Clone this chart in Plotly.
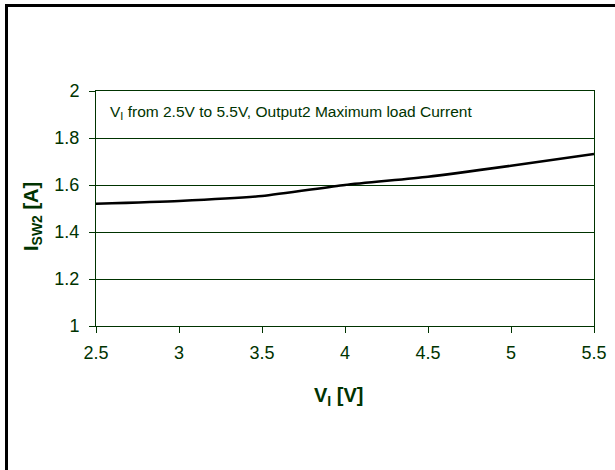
import plotly.graph_objects as go

vin = [2.5, 3.0, 3.5, 4.0, 4.5, 5.0, 5.5]
isw2 = [1.52, 1.532, 1.553, 1.60, 1.635, 1.682, 1.732]
x_ticks = [2.5, 3, 3.5, 4, 4.5, 5, 5.5]
y_ticks = [1, 1.2, 1.4, 1.6, 1.8, 2]

GREEN = "#003300"
FONT = "Arial, Liberation Sans, sans-serif"

W, H = 615, 470
L, R, T, B = 96, 21, 91, 144
pw, ph = W - L - R, H - T - B

def px(x):
    return (x - L) / pw

def py(y):
    return 1 - (y - T) / ph

fig = go.Figure()
fig.add_trace(go.Scatter(x=vin, y=isw2, mode="lines",
                         line=dict(color="black", width=2.5, shape="spline", smoothing=0.6),
                         showlegend=False, hoverinfo="skip"))

axis_common = dict(showline=True, linecolor=GREEN, linewidth=1, mirror=True,
                   ticks="outside", ticklen=6, tickcolor=GREEN, tickwidth=1,
                   tickfont=dict(family=FONT, size=18, color=GREEN), zeroline=False)

fig.update_xaxes(range=[2.5, 5.5], tickvals=x_ticks, ticktext=[f"{v:g}" for v in x_ticks],
                 showgrid=False, ticklabelstandoff=4, **axis_common)
fig.update_yaxes(range=[1, 2], tickvals=y_ticks, ticktext=[f"{v:g}" for v in y_ticks],
                 showgrid=True, gridcolor=GREEN, gridwidth=1, ticklabelstandoff=6,
                 **axis_common)

# axis titles
fig.add_annotation(text="<b>V<sub>I</sub> [V]</b>", xref="paper", yref="paper",
                   x=px(338), y=py(396), xanchor="center", yanchor="middle", showarrow=False,
                   font=dict(family=FONT, size=20, color=GREEN))
fig.add_annotation(text="<b>I<sub>SW2</sub> [A]</b>", xref="paper", yref="paper",
                   x=px(32), y=py(217), xanchor="center", yanchor="middle", showarrow=False,
                   textangle=-90, font=dict(family=FONT, size=20, color=GREEN))

fig.add_annotation(text="V<sub>I</sub> from 2.5V to 5.5V, Output2 Maximum load Current",
                   xref="paper", yref="paper", x=px(108), y=py(112),
                   xanchor="left", yanchor="middle", showarrow=False,
                   font=dict(family=FONT, size=15.5, color=GREEN))

# outer black frame (extends beyond the window on right and bottom)
fig.add_shape(type="line", xref="paper", yref="paper",
              x0=px(6.5), x1=px(W + 5), y0=py(5.5), y1=py(5.5),
              line=dict(color="black", width=3), layer="above")
fig.add_shape(type="line", xref="paper", yref="paper",
              x0=px(6.5), x1=px(6.5), y0=py(4), y1=py(H + 5),
              line=dict(color="black", width=3), layer="above")

fig.update_layout(width=W, height=H, margin=dict(l=L, r=R, t=T, b=B, autoexpand=False),
                  paper_bgcolor="white", plot_bgcolor="white",
                  font=dict(family=FONT, color=GREEN))

fig.write_html("out.html", config={"displayModeBar": False},
               post_script="document.body.style.margin='0';document.body.style.overflow='hidden';")
